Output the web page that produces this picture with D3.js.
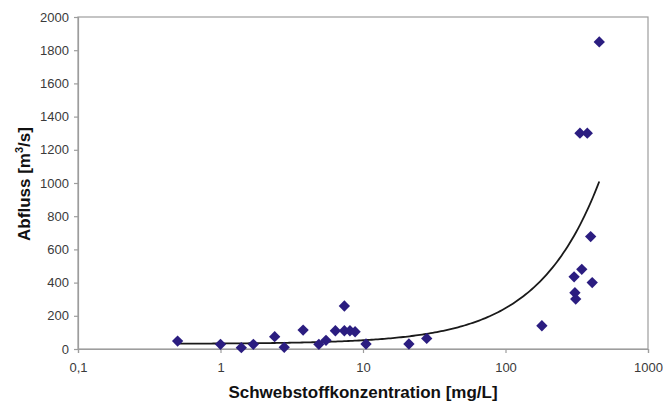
<!DOCTYPE html>
<html>
<head>
<meta charset="utf-8">
<script src="https://cdn.jsdelivr.net/npm/d3@7"></script>
<style>
  html, body { margin: 0; padding: 0; background: #ffffff; }
  svg { display: block; }
</style>
</head>
<body>
<svg id="chart" width="663" height="403"></svg>
<script>
// Suspended sediment concentration [mg/L] and discharge [m³/s] per sample
const concentration = [0.5, 1.0, 1.4, 1.7, 2.4, 2.8, 3.8, 4.9, 5.5, 6.4, 7.4, 7.4, 8.1, 8.8, 10.5, 21, 28,
                       180, 303, 343, 406, 307, 311, 396, 333, 375, 455];
const discharge     = [48, 28, 8, 28, 74, 10, 114, 28, 52, 110, 259, 110, 110, 104, 30, 30, 64,
                       140, 435, 480, 400, 339, 301, 677, 1300, 1300, 1850];

const xTicks = [0.1, 1, 10, 100, 1000];
const yTicks = [0, 200, 400, 600, 800, 1000, 1200, 1400, 1600, 1800, 2000];

const xTitle = "Schwebstoffkonzentration [mg/L]";

const points = concentration.map((c, i) => ({ x: c, y: discharge[i] }));

const svg = d3.select("#chart");
const plotLeft = 78, plotRight = 648, plotTop = 17, plotBottom = 349;

const x = d3.scaleLog().domain([0.1, 1000]).range([plotLeft, plotRight]);
const y = d3.scaleLinear().domain([0, 2000]).range([plotBottom, plotTop]);

const de = d3.formatLocale({ decimal: ",", thousands: "", grouping: [3], currency: ["", " €"] });
const fmt = de.format("~g");

const axisColor = "#9d9d9d";
const labelColor = "#3a3a3a";
const font = "Arial, 'Liberation Sans', sans-serif";

// Plot frame
svg.append("rect")
  .attr("x", plotLeft).attr("y", plotTop)
  .attr("width", plotRight - plotLeft).attr("height", plotBottom - plotTop)
  .attr("fill", "none").attr("stroke", axisColor).attr("stroke-width", 1.2);

// Axes
const yAxis = svg.append("g")
  .attr("transform", `translate(${plotLeft},0)`)
  .call(d3.axisLeft(y).tickValues(yTicks).tickSize(4).tickPadding(5).tickFormat(d3.format("d")));
const xAxis = svg.append("g")
  .attr("transform", `translate(0,${plotBottom})`)
  .call(d3.axisBottom(x).tickValues(xTicks).tickSize(4).tickPadding(10).tickFormat(fmt));

[xAxis, yAxis].forEach(g => {
  g.select(".domain").attr("stroke", axisColor).attr("stroke-width", 1.2);
  g.selectAll(".tick line").attr("stroke", axisColor).attr("stroke-width", 1.2);
  g.selectAll(".tick text")
    .attr("fill", labelColor)
    .style("font-family", font)
    .style("font-size", "13px");
});

// Linear least-squares trend line, drawn over the sample range
const mx = d3.mean(points, d => d.x);
const my = d3.mean(points, d => d.y);
const slope = d3.sum(points, d => (d.x - mx) * (d.y - my)) / d3.sum(points, d => (d.x - mx) ** 2);
const intercept = my - slope * mx;
const [xMin, xMax] = d3.extent(concentration);
const trend = d3.range(0, 201).map(i => {
  const xv = Math.pow(10, Math.log10(xMin) + (Math.log10(xMax) - Math.log10(xMin)) * i / 200);
  return { x: xv, y: intercept + slope * xv };
});
svg.append("path")
  .datum(trend)
  .attr("fill", "none")
  .attr("stroke", "#1a1a1a")
  .attr("stroke-width", 1.8)
  .attr("d", d3.line().x(d => x(d.x)).y(d => y(d.y)));

// Sample markers (diamonds)
const diamond = d3.symbol().type(d3.symbolSquare).size(64);
svg.append("g")
  .selectAll("path")
  .data(points)
  .join("path")
  .attr("d", diamond)
  .attr("transform", d => `translate(${x(d.x)},${y(d.y)}) rotate(45)`)
  .attr("fill", "#2b1d80");

// Axis titles
svg.append("text")
  .attr("x", 363).attr("y", 398)
  .attr("text-anchor", "middle")
  .attr("fill", "#111")
  .style("font-family", font)
  .style("font-size", "17px")
  .style("font-weight", "bold")
  .text(xTitle);

const yt = svg.append("text")
  .attr("transform", "translate(30,184) rotate(-90)")
  .attr("text-anchor", "middle")
  .attr("fill", "#111")
  .style("font-family", font)
  .style("font-size", "17px")
  .style("font-weight", "bold");
yt.append("tspan").text("Abfluss [m");
yt.append("tspan").attr("dy", -7).style("font-size", "11px").text("3");
yt.append("tspan").attr("dy", 7).text("/s]");
</script>
</body>
</html>
